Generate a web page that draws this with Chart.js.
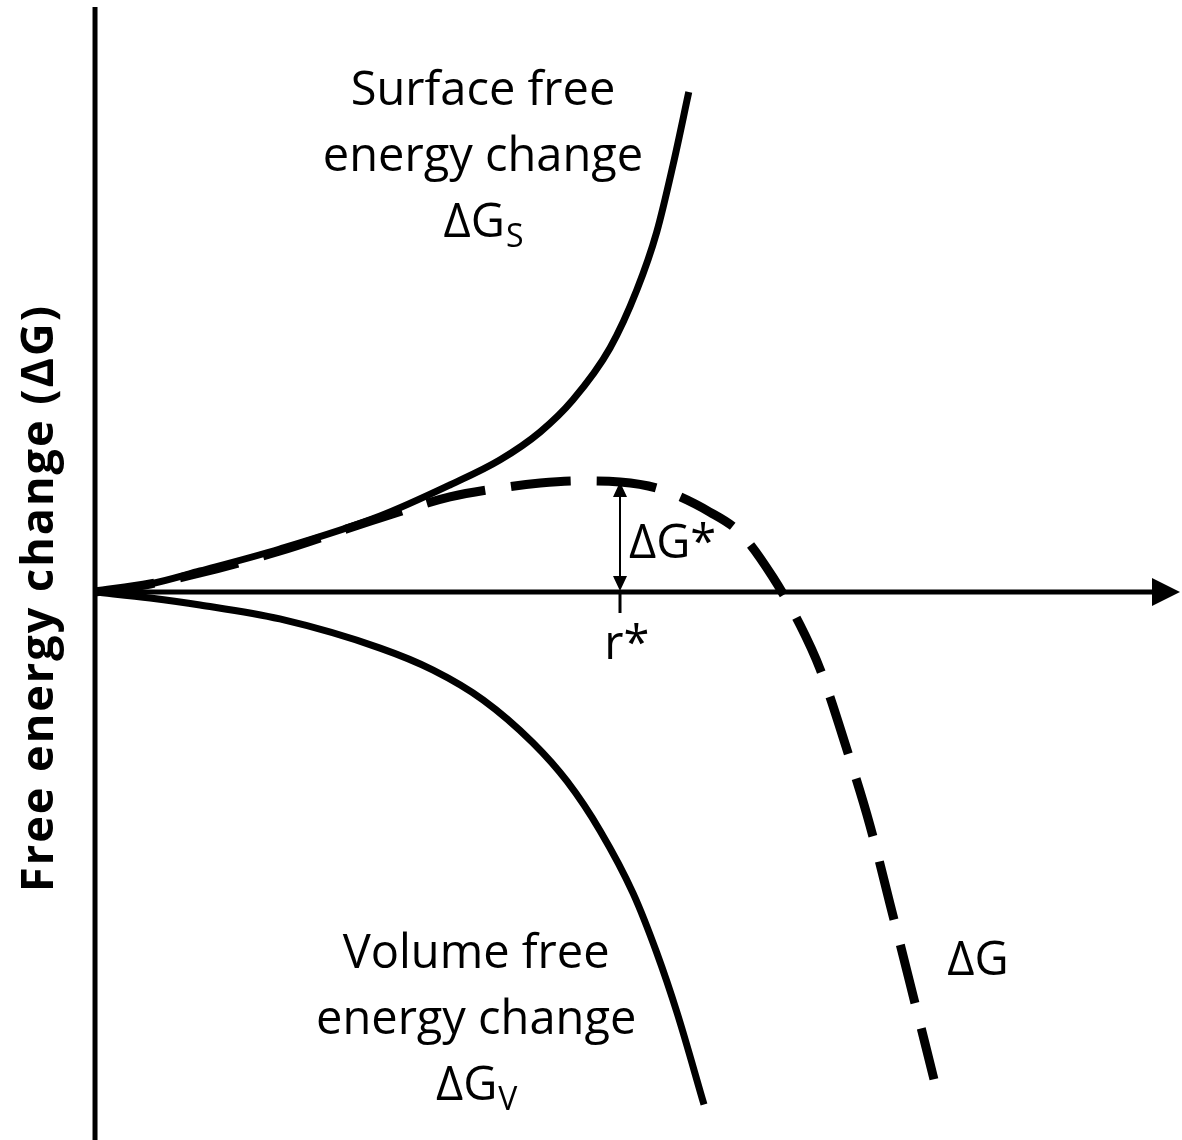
<!DOCTYPE html>
<html>
<head>
<meta charset="utf-8">
<script src="https://cdn.jsdelivr.net/npm/chart.js@4.4.1/dist/chart.umd.min.js"></script>
<style>
  body { margin: 0; background: #fff; }
  #wrap { width: 1182px; height: 1140px; position: relative; }
</style>
</head>
<body>
<div id="wrap"><canvas id="nucleation"></canvas></div>
<script>
// radius in units of r*, energy in units of dG*
const surfR = [0, 0.105, 0.2, 0.352, 0.543, 0.676, 0.771, 0.848, 0.91, 0.981, 1.032, 1.070, 1.101, 1.131];
const surfG = [0, 0.073, 0.191, 0.391, 0.691, 0.973, 1.2, 1.455, 1.745, 2.218, 2.745, 3.273, 3.882, 4.545];

const volR = [0, 0.105, 0.2, 0.352, 0.543, 0.644, 0.739, 0.834, 0.899, 0.962, 1.025, 1.070, 1.109, 1.160];
const volG = [0, -0.055, -0.118, -0.245, -0.51, -0.71, -0.98, -1.37, -1.72, -2.17, -2.74, -3.28, -3.83, -4.66];

const dgR = [0, 0.105, 0.2, 0.352, 0.543, 0.676, 0.771, 0.848, 0.924, 1.0, 1.076, 1.171, 1.229, 1.291, 1.343, 1.381, 1.438, 1.476, 1.514, 1.552, 1.598];
const dgG = [0, 0.073, 0.173, 0.373, 0.673, 0.864, 0.945, 0.99, 1.01, 1.0, 0.936, 0.727, 0.536, 0.136, -0.3, -0.7, -1.52, -2.12, -2.83, -3.55, -4.43];

const rStar = 1;
const dgStar = 1;

const yTitle = 'Free energy change (\u0394G)';
const surfLabel = ['Surface free', 'energy change'];
const volLabel = ['Volume free', 'energy change'];

const pts = (xs, ys) => xs.map((x, i) => ({ x: x, y: ys[i] }));

const FONT = '"Open Sans", "Noto Sans", sans-serif';

function deltaG(ctx, cx, cy, size, sub) {
    // "ΔG" with an optional subscript, centred on cx
    ctx.font = size + 'px ' + FONT;
    const w1 = ctx.measureText('\u0394G').width;
    let w2 = 0;
    if (sub) {
        ctx.font = Math.round(size * 0.68) + 'px ' + FONT;
        w2 = ctx.measureText(sub).width;
    }
    const left = cx - (w1 + w2) / 2;
    ctx.textAlign = 'left';
    ctx.textBaseline = 'middle';
    ctx.font = size + 'px ' + FONT;
    ctx.fillText('\u0394G', left, cy);
    if (sub) {
        ctx.font = Math.round(size * 0.68) + 'px ' + FONT;
        ctx.fillText(sub, left + w1 + 1, cy + size * 0.3);
    }
}

const sketch = {
    id: 'sketch',
    beforeDatasetsDraw(chart) {
        const { ctx, chartArea, scales: { x, y } } = chart;
        const x0 = x.getPixelForValue(0);
        const y0 = y.getPixelForValue(0);
        ctx.save();
        ctx.strokeStyle = '#000';
        ctx.fillStyle = '#000';
        ctx.lineWidth = 5;
        // vertical axis
        ctx.beginPath();
        ctx.moveTo(x0, chartArea.top + 7);
        ctx.lineTo(x0, chartArea.bottom);
        ctx.stroke();
        // horizontal axis with arrow
        const tip = chartArea.right - 2;
        ctx.beginPath();
        ctx.moveTo(x0, y0);
        ctx.lineTo(tip - 20, y0);
        ctx.stroke();
        ctx.beginPath();
        ctx.moveTo(tip, y0);
        ctx.lineTo(tip - 28, y0 - 14);
        ctx.lineTo(tip - 28, y0 + 14);
        ctx.closePath();
        ctx.fill();
        ctx.restore();
    },
    afterDatasetsDraw(chart) {
        const { ctx, scales: { x, y } } = chart;
        const y0 = y.getPixelForValue(0);
        const xs = x.getPixelForValue(rStar);
        const ys = y.getPixelForValue(dgStar);
        ctx.save();
        ctx.strokeStyle = '#000';
        ctx.fillStyle = '#000';

        // r* tick
        ctx.lineWidth = 3;
        ctx.beginPath();
        ctx.moveTo(xs, y0);
        ctx.lineTo(xs, y0 + 21);
        ctx.stroke();

        // dG* double arrow
        ctx.lineWidth = 2;
        ctx.beginPath();
        ctx.moveTo(xs, ys + 12);
        ctx.lineTo(xs, y0 - 12);
        ctx.stroke();
        ctx.beginPath();
        ctx.moveTo(xs, ys);
        ctx.lineTo(xs - 7, ys + 15);
        ctx.lineTo(xs + 7, ys + 15);
        ctx.closePath();
        ctx.fill();
        ctx.beginPath();
        ctx.moveTo(xs, y0 - 1);
        ctx.lineTo(xs - 7, y0 - 16);
        ctx.lineTo(xs + 7, y0 - 16);
        ctx.closePath();
        ctx.fill();

        // curve labels
        ctx.textAlign = 'center';
        ctx.textBaseline = 'middle';
        ctx.font = '47px ' + FONT;
        let cx = x.getPixelForValue(0.739);
        let cy = y.getPixelForValue(4.545);
        surfLabel.forEach((t, i) => ctx.fillText(t, cx, cy + i * 66));
        deltaG(ctx, cx, cy + 2 * 66, 47, 'S');

        cx = x.getPixelForValue(0.726);
        cy = y.getPixelForValue(-3.3);
        ctx.textAlign = 'center';
        ctx.font = '47px ' + FONT;
        volLabel.forEach((t, i) => ctx.fillText(t, cx, cy + i * 66));
        deltaG(ctx, cx, cy + 2 * 66, 47, 'V');

        // dG*, r*, dG
        ctx.textAlign = 'left';
        ctx.font = '47px ' + FONT;
        ctx.fillText('\u0394G*', x.getPixelForValue(1.017), y.getPixelForValue(0.427));
        ctx.textAlign = 'center';
        ctx.fillText('r*', x.getPixelForValue(1.013), y.getPixelForValue(-0.49));
        deltaG(ctx, x.getPixelForValue(1.682), y.getPixelForValue(-3.364), 47, '');

        // y title
        ctx.translate(40, chart.height / 2 + 28);
        ctx.rotate(-Math.PI / 2);
        ctx.textAlign = 'center';
        ctx.textBaseline = 'middle';
        ctx.font = 'bold 45px ' + FONT;
        ctx.letterSpacing = '2px';
        ctx.fillText(yTitle, 0, 0);
        ctx.restore();
    }
};

new Chart(document.getElementById('nucleation'), {
    type: 'scatter',
    data: {
        datasets: [
            {
                label: 'Surface',
                data: pts(surfR, surfG),
                showLine: true,
                borderColor: '#000',
                borderWidth: 7,
                pointRadius: 0,
                cubicInterpolationMode: 'monotone'
            },
            {
                label: 'Volume',
                data: pts(volR, volG),
                showLine: true,
                borderColor: '#000',
                borderWidth: 7,
                pointRadius: 0,
                cubicInterpolationMode: 'monotone'
            },
            {
                label: 'dG',
                data: pts(dgR, dgG),
                showLine: true,
                borderColor: '#000',
                borderWidth: 9,
                borderDash: [60, 26],
                pointRadius: 0,
                cubicInterpolationMode: 'monotone'
            }
        ]
    },
    options: {
        responsive: true,
        maintainAspectRatio: false,
        animation: false,
        layout: { padding: 0 },
        plugins: {
            legend: { display: false },
            tooltip: { enabled: false }
        },
        scales: {
            x: { type: 'linear', display: false, min: -0.181, max: 2.0705 },
            y: { type: 'linear', display: false, min: -4.982, max: 5.382 }
        }
    },
    plugins: [sketch]
});
</script>
</body>
</html>
